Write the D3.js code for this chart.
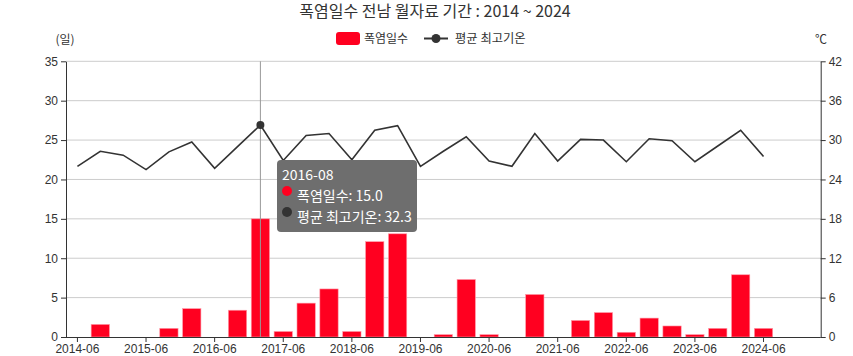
<!DOCTYPE html>
<html><head><meta charset="utf-8">
<script src="https://cdn.jsdelivr.net/npm/d3@7"></script>
<style>
html,body{margin:0;padding:0;background:#fff;}
svg{display:block;font-family:"Noto Sans CJK KR","Noto Sans",sans-serif;}
</style></head>
<body><svg id="c" width="853" height="356"></svg>
<script>
const years = [2014,2015,2016,2017,2018,2019,2020,2021,2022,2023,2024];
const monthsOfYear = ["06","07","08"];
const categories = years.flatMap(y => monthsOfYear.map(m => y + "-" + m));
// 폭염일수 (days)
const heatDays = [0,1.6,0, 0,1.1,3.6, 0,3.4,15.0, 0.7,4.3,6.1, 0.7,12.1,13.1,
  0,0.3,7.3, 0.3,0,5.4, 0,2.1,3.1, 0.6,2.4,1.4, 0.3,1.1,7.9, 1.1,null,null];
// 평균 최고기온 (℃)
const maxTemp = [26.0,28.3,27.7, 25.5,28.2,29.7, 25.7,29.0,32.3, 26.9,30.7,31.0, 27.0,31.5,32.2,
  26.0,28.3,30.5, 26.8,26.0,31.0, 26.8,30.1,30.0, 26.7,30.2,29.9, 26.7,29.1,31.5, 27.5,null,null];
const leftTicks = [0,5,10,15,20,25,30,35];
const rightTicks = [0,6,12,18,24,30,36,42];
const xTickLabels = years.map(y => y + "-06");
const titleText = "폭염일수 전남 월자료 기간 : 2014 ~ 2024";
const seriesNames = ["폭염일수","평균 최고기온"];
const hoverIndex = categories.indexOf("2016-08");

const svg = d3.select("#c");
const m = {l:66, r:853-820.7, t:61.3, b:356-337};
const W = 853, H = 356;
const x = d3.scaleBand().domain(categories).range([m.l, W-m.r]).paddingInner(0.2).paddingOuter(0.1);
const xc = d => x(d) + x.bandwidth()/2;
const yL = d3.scaleLinear().domain([0,35]).range([H-m.b, m.t]);
const yR = d3.scaleLinear().domain([0,42]).range([H-m.b, m.t]);
const red = "#ff0020", dark = "#333333";

// grid
svg.append("g").selectAll("line").data(leftTicks.slice(1)).join("line")
  .attr("x1", m.l).attr("x2", W-m.r).attr("y1", d=>yL(d)).attr("y2", d=>yL(d))
  .attr("stroke","#cccccc").attr("stroke-width",1);

// bars
svg.append("g").selectAll("rect").data(categories.map((c,i)=>({c, v:heatDays[i]})).filter(d=>d.v))
  .join("rect")
  .attr("x", d=>x(d.c)).attr("width", x.bandwidth())
  .attr("y", d=>yL(d.v)).attr("height", d=>yL(0)-yL(d.v))
  .attr("fill", red).attr("stroke","#ff9aa8").attr("stroke-width",0.6);

// crosshair
svg.append("line").attr("x1", xc(categories[hoverIndex])).attr("x2", xc(categories[hoverIndex]))
  .attr("y1", m.t).attr("y2", H-m.b).attr("stroke","#999").attr("stroke-width",1);

// line
const lineData = categories.map((c,i)=>({c, v:maxTemp[i]})).filter(d=>d.v!=null);
svg.append("path").datum(lineData)
  .attr("d", d3.line().x(d=>xc(d.c)).y(d=>yR(d.v)))
  .attr("fill","none").attr("stroke",dark).attr("stroke-width",1.6);
svg.append("circle").attr("cx", xc(categories[hoverIndex])).attr("cy", yR(maxTemp[hoverIndex]))
  .attr("r",4).attr("fill",dark);

// axes
const fontSize = 12;
const xAxis = d3.axisBottom(x).tickValues(xTickLabels).tickSize(5).tickSizeOuter(0);
const gx = svg.append("g").attr("transform",`translate(0,${H-m.b})`).call(xAxis);
gx.selectAll("line,path").attr("stroke",dark);
gx.selectAll("text").attr("fill",dark).attr("font-size",fontSize).attr("y",6).attr("dy","0.8em");
gx.select(".domain").attr("d", `M${m.l},0.5H${W-m.r}`);

const gl = svg.append("g").attr("transform",`translate(${m.l},0)`)
  .call(d3.axisLeft(yL).tickValues(leftTicks).tickSize(5).tickSizeOuter(0));
gl.selectAll("line,path").attr("stroke",dark);
gl.selectAll("text").attr("fill",dark).attr("font-size",fontSize);

const gr = svg.append("g").attr("transform",`translate(${W-m.r},0)`)
  .call(d3.axisRight(yR).tickValues(rightTicks).tickSize(5).tickSizeOuter(0));
gr.selectAll("line,path").attr("stroke",dark);
gr.selectAll("text").attr("fill",dark).attr("font-size",fontSize);

// axis units
svg.append("text").attr("x",65).attr("y",44).attr("text-anchor","middle")
  .attr("font-size",12).attr("fill",dark).text("(일)");
svg.append("text").attr("x",821).attr("y",44).attr("text-anchor","middle")
  .attr("font-size",12).attr("fill",dark).text("℃");

// title
svg.append("text").attr("x",435).attr("y",17).attr("text-anchor","middle")
  .attr("font-size",16).attr("fill","#333").text(titleText);

// legend
const lg = svg.append("g");
lg.append("rect").attr("x",336).attr("y",32).attr("width",24).attr("height",13).attr("rx",3).attr("fill",red);
lg.append("text").attr("x",364).attr("y",43).attr("font-size",12).attr("fill",dark).text(seriesNames[0]);
lg.append("line").attr("x1",424).attr("x2",448).attr("y1",38.5).attr("y2",38.5).attr("stroke",dark).attr("stroke-width",2);
lg.append("circle").attr("cx",436).attr("cy",38.5).attr("r",4.5).attr("fill",dark);
lg.append("text").attr("x",455).attr("y",43).attr("font-size",12.3).attr("fill",dark).text(seriesNames[1]);

// tooltip
const tx = 277, ty = 160;
const tt = svg.append("g").attr("transform",`translate(${tx},${ty})`);
tt.append("rect").attr("width",140).attr("height",72).attr("rx",4).attr("fill","#6e6e6e");
tt.append("text").attr("x",5).attr("y",20).attr("font-size",14).attr("fill","#fff").text(categories[hoverIndex]);
tt.append("circle").attr("cx",10).attr("cy",31).attr("r",5).attr("fill",red);
tt.append("text").attr("x",20).attr("y",41).attr("font-size",14).attr("fill","#fff")
  .text(`${seriesNames[0]}: ${heatDays[hoverIndex].toFixed(1)}`);
tt.append("circle").attr("cx",10).attr("cy",52).attr("r",5).attr("fill",dark);
tt.append("text").attr("x",20).attr("y",62).attr("font-size",14).attr("fill","#fff")
  .text(`${seriesNames[1]}: ${maxTemp[hoverIndex].toFixed(1)}`);
</script></body></html>
